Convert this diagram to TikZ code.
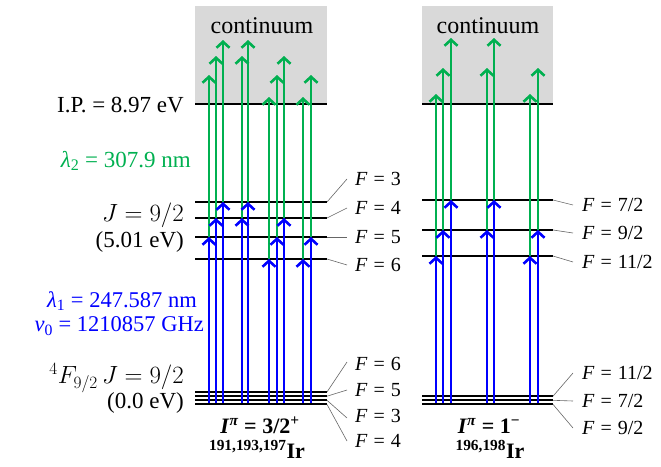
\documentclass[tikz,border=0pt]{standalone}
\usepackage{fontspec}
\setmainfont{Liberation Serif}
\usetikzlibrary{arrows.meta}
\definecolor{ugreen}{RGB}{0,176,80}
\definecolor{ublue}{RGB}{0,0,255}
\definecolor{contgray}{RGB}{217,217,217}
\tikzset{
  lvl/.style={line width=2.6pt},
  glvl/.style={line width=2.1pt},
  bluarrow/.style={ublue, line width=2.6pt, -{Straight Barb[length=6pt,width=13pt]}},
  grnarrow/.style={ugreen, line width=2.6pt, -{Straight Barb[length=6pt,width=13pt]}},
  leader/.style={draw=black!60, line width=0.6pt},
  flab/.style={anchor=west, inner sep=0pt, font=\fontsize{20}{22}\selectfont},
  mainlab/.style={anchor=east, inner sep=0pt, font=\fontsize{23}{25}\selectfont},
  contlab/.style={anchor=base, inner sep=0pt, font=\fontsize{24}{26}\selectfont},
  isolab/.style={anchor=base, inner sep=0pt, font=\bfseries\fontsize{22}{24}\selectfont},
}
\newcommand{\Fsp}{\hspace{0.3em}}
\begin{document}
\begin{tikzpicture}[x=1pt,y=-1pt]
\useasboundingbox (0,0) rectangle (661,466);
% continuum boxes
\fill[contgray] (195,6) rectangle (327,104);
\fill[contgray] (422,6) rectangle (553,104);
\node[contlab] (cont1) at (262,33) {continuum};
\node[contlab] (cont2) at (488,33) {continuum};
% ionisation lines
\draw[lvl] (195,104) coordinate (IPl) -- (327,104) coordinate (IPr);
\draw[lvl] (422,104) coordinate (IPl2) -- (553,104) coordinate (IPr2);
% left upper levels
\foreach \n/\y in {3/202,4/218,5/237,6/259}{
  \draw[lvl] (195,\y) -- (327,\y) coordinate (A\n);
}
% right upper levels
\foreach \n/\y in {7/200,9/230,11/256}{
  \draw[lvl] (422,\y) -- (553,\y) coordinate (B\n);
}
% ground levels
\foreach \n/\y in {a/392,b/396.2,c/400.3,d/404.4}{
  \draw[glvl] (195,\y) -- (327,\y) coordinate (G\n);
}
\foreach \n/\y in {a/396.2,b/400.3,c/404.4}{
  \draw[glvl] (422,\y) -- (553,\y) coordinate (H\n);
}
% left arrows
\foreach \x/\y in {209/237,216/218,223/202,242/218,248/202,269/259,277/237,284/218,303/259,311/237}{
  \draw[grnarrow] (\x,\y) -- (\x,\y-162);
  \draw[bluarrow] (\x,403) -- (\x,\y);
}
% right arrows
\foreach \x/\y in {436/256,443/230,451/200,487/230,494/200,530/256,538/230}{
  \draw[grnarrow] (\x,\y) -- (\x,\y-162);
  \draw[bluarrow] (\x,403) -- (\x,\y);
}
% left labels
\node[mainlab] (ip) at (184,105) {I.P. = 8.97 eV};
\node[mainlab, text=ugreen] (lam2) at (191,161) {\textit{λ}\textsubscript{2} = 307.9 nm};
\node[mainlab] (jup) at (184,215) {$J = 9/2$};
\node[mainlab] (eup) at (184,242) {(5.01 eV)};
\node[mainlab, text=ublue, font=\fontsize{22.5}{24}\selectfont] (lam1) at (197,301) {\textit{λ}\textsubscript{1} = 247.587 nm};
\node[mainlab, text=ublue, font=\fontsize{22.5}{24}\selectfont] (nu0) at (204,326) {\textit{ν}\textsubscript{0} = 1210857 GHz};
\node[mainlab] (jgr) at (184,378) {$^4F_{9/2}\,J = 9/2$};
\node[mainlab] (egr) at (184,403) {(0.0 eV)};
% F labels left upper
\node[flab] (fa3) at (355,179) {\textit{F}\Fsp=\Fsp3};
\node[flab] (fa4) at (355,208) {\textit{F}\Fsp=\Fsp4};
\node[flab] (fa5) at (355,237) {\textit{F}\Fsp=\Fsp5};
\node[flab] (fa6) at (355,265) {\textit{F}\Fsp=\Fsp6};
\draw[leader] (A3) -- ([xshift=-8pt]fa3.west);
\draw[leader] (A4) -- ([xshift=-8pt]fa4.west);
\draw[leader] (A5) -- ([xshift=-8pt]fa5.west);
\draw[leader] (A6) -- ([xshift=-8pt]fa6.west);
% F labels right upper
\node[flab] (fb7) at (582,205) {\textit{F}\Fsp=\Fsp7/2};
\node[flab] (fb9) at (582,233) {\textit{F}\Fsp=\Fsp9/2};
\node[flab] (fb11) at (582,262) {\textit{F}\Fsp=\Fsp11/2};
\draw[leader] (B7) -- ([xshift=-9pt]fb7.west);
\draw[leader] (B9) -- ([xshift=-9pt]fb9.west);
\draw[leader] (B11) -- ([xshift=-9pt]fb11.west);
% F labels left ground
\node[flab] (fg6) at (355,364) {\textit{F}\Fsp=\Fsp6};
\node[flab] (fg5) at (355,390) {\textit{F}\Fsp=\Fsp5};
\node[flab] (fg3) at (355,416) {\textit{F}\Fsp=\Fsp3};
\node[flab] (fg4) at (355,441) {\textit{F}\Fsp=\Fsp4};
\draw[leader] (Ga) -- ([xshift=-8pt,yshift=2pt]fg6.west);
\draw[leader] (Gb) -- ([xshift=-8pt]fg5.west);
\draw[leader] (Gc) -- ([xshift=-8pt,yshift=-2pt]fg3.west);
\draw[leader] (Gd) -- ([xshift=-8pt]fg4.west);
% F labels right ground
\node[flab] (fh11) at (582,373) {\textit{F}\Fsp=\Fsp11/2};
\node[flab] (fh7) at (582,401) {\textit{F}\Fsp=\Fsp7/2};
\node[flab] (fh9) at (582,428) {\textit{F}\Fsp=\Fsp9/2};
\draw[leader] (Ha) -- ([xshift=-9pt]fh11.west);
\draw[leader] (Hb) -- ([xshift=-9pt]fh7.west);
\draw[leader] (Hc) -- ([xshift=-9pt]fh9.west);
% isotope labels
\node[isolab] (spin1) at (260,433) {\textit{I}\textsuperscript{\textit{π}} = 3/2\textsuperscript{+}};
\node[isolab] (iso1) at (257,458) {\textsuperscript{191,193,197}Ir};
\node[isolab] (spin2) at (489,433) {\textit{I}\textsuperscript{\textit{π}} = 1\textsuperscript{−}};
\node[isolab] (iso2) at (490,458) {\textsuperscript{196,198}Ir};
\end{tikzpicture}
\end{document}
